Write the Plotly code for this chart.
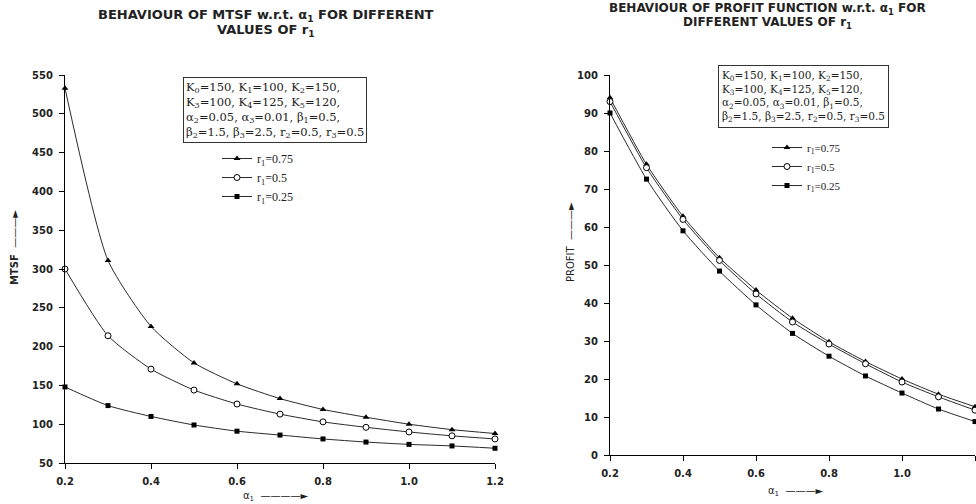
import plotly.graph_objects as go

alpha1 = [0.2, 0.3, 0.4, 0.5, 0.6, 0.7, 0.8, 0.9, 1.0, 1.1, 1.2]

mtsf_r075 = [533, 311, 226, 179, 152, 133, 119, 109, 100, 93, 88]
mtsf_r050 = [300, 214, 171, 144, 126, 113, 103, 96, 90, 85, 81]
mtsf_r025 = [148, 124, 110, 99, 91, 86, 81, 77, 74, 72, 69]

profit_r075 = [94, 76.5, 62.8, 51.9, 43.4, 36.0, 29.8, 24.6, 20.0, 16.0, 12.7]
profit_r050 = [93, 75.6, 62.0, 51.2, 42.4, 35.0, 29.2, 24.0, 19.2, 15.3, 11.8]
profit_r025 = [90, 72.6, 59.0, 48.4, 39.5, 32.0, 26.0, 20.8, 16.3, 12.1, 8.8]

series_names = ["r<sub>1</sub>=0.75", "r<sub>1</sub>=0.5", "r<sub>1</sub>=0.25"]

x_ticks = [0.2, 0.4, 0.6, 0.8, 1.0, 1.2]
mtsf_ticks = [50, 100, 150, 200, 250, 300, 350, 400, 450, 500, 550]
profit_ticks = [0, 10, 20, 30, 40, 50, 60, 70, 80, 90, 100]

params_text = ("K<sub>0</sub>=150, K<sub>1</sub>=100, K<sub>2</sub>=150,<br>"
               "K<sub>3</sub>=100, K<sub>4</sub>=125, K<sub>5</sub>=120,<br>"
               "\u03b1<sub>2</sub>=0.05, \u03b1<sub>3</sub>=0.01, \u03b2<sub>1</sub>=0.5,<br>"
               "\u03b2<sub>2</sub>=1.5, \u03b2<sub>3</sub>=2.5, r<sub>2</sub>=0.5, r<sub>3</sub>=0.5")

LINE = "#2a2a2a"
SANS = "DejaVu Sans"
SERIF = "Liberation Serif"
BOXSERIF = "DejaVu Serif"

markers = [
    dict(symbol="triangle-up", size=6, color="black"),
    dict(symbol="circle", size=6, color="white", line=dict(color="black", width=1)),
    dict(symbol="square", size=5, color="black"),
]

fig = go.Figure()

left_series = [mtsf_r075, mtsf_r050, mtsf_r025]
right_series = [profit_r075, profit_r050, profit_r025]

for name, ys, mk in zip(series_names, left_series, markers):
    fig.add_trace(go.Scatter(x=alpha1, y=ys, mode="lines+markers", name=name,
                             line=dict(color=LINE, width=1, shape="spline", smoothing=0.6),
                             marker=mk, xaxis="x", yaxis="y", legend="legend",
                             cliponaxis=False))
for name, ys, mk in zip(series_names, right_series, markers):
    fig.add_trace(go.Scatter(x=alpha1, y=ys, mode="lines+markers", name=name,
                             line=dict(color=LINE, width=1, shape="spline", smoothing=0.6),
                             marker=mk, xaxis="x2", yaxis="y2", legend="legend2",
                             cliponaxis=False))

W, H = 976, 504

def px(x):
    return x / W

def py(y):
    return 1 - y / H

axis_common = dict(showgrid=False, zeroline=False, showline=True, linecolor="black",
                   linewidth=1.3, ticks="outside", ticklen=5, tickcolor="black",
                   automargin=False, ticklabelstandoff=4,
                   tickfont=dict(family=SANS, size=10, color="#222", weight="bold"))

fig.update_layout(
    width=W, height=H,
    margin=dict(l=0, r=0, t=0, b=0, autoexpand=False),
    paper_bgcolor="white", plot_bgcolor="white",
    showlegend=True,
    xaxis=dict(domain=[px(65), px(495)], range=[0.2, 1.2], tickvals=x_ticks,
               tickformat=".1f", anchor="y", **axis_common),
    yaxis=dict(domain=[py(463), py(75)], range=[50, 550], tickvals=mtsf_ticks,
               anchor="x", **axis_common),
    xaxis2=dict(domain=[px(610), px(975)], range=[0.2, 1.2], tickvals=x_ticks,
                tickformat=".1f", anchor="y2", **axis_common),
    yaxis2=dict(domain=[py(455), py(75)], range=[0, 100], tickvals=profit_ticks,
                anchor="x2", **axis_common),
    legend=dict(x=px(217), y=py(144), xanchor="left", yanchor="top",
                font=dict(family=SERIF, size=12, color="#222"),
                bgcolor="rgba(0,0,0,0)", itemwidth=30, tracegroupgap=0),
    legend2=dict(x=px(767), y=py(133), xanchor="left", yanchor="top",
                 font=dict(family=SERIF, size=11, color="#222"),
                 bgcolor="rgba(0,0,0,0)", itemwidth=30, tracegroupgap=0),
)

ARROW3 = "\u2014\u2014\u2014\u25ba"
ARROW4 = "\u2014\u2014\u2014\u2014\u25ba"

def title_line(text, x, y, size):
    return dict(text=text, x=px(x), y=py(y), xref="paper", yref="paper",
                xanchor="center", yanchor="middle", showarrow=False,
                font=dict(family=SANS, size=size, color="#222", weight="bold"))

annotations = [
    title_line("BEHAVIOUR OF MTSF w.r.t. \u03b1<sub>1</sub> FOR DIFFERENT", 266, 15, 13),
    title_line("VALUES OF r<sub>1</sub>", 266, 30, 13),
    title_line("BEHAVIOUR OF PROFIT FUNCTION w.r.t. \u03b1<sub>1</sub> FOR", 767, 9, 12),
    title_line("DIFFERENT VALUES OF r<sub>1</sub>", 767, 23, 12),
    dict(text=params_text, x=px(183), y=py(77), xref="paper", yref="paper",
         xanchor="left", yanchor="top", align="left", showarrow=False,
         font=dict(family=BOXSERIF, size=11.5, color="#222"),
         bordercolor="#333", borderwidth=1, borderpad=2, bgcolor="white"),
    dict(text=params_text, x=px(718), y=py(65), xref="paper", yref="paper",
         xanchor="left", yanchor="top", align="left", showarrow=False,
         font=dict(family=BOXSERIF, size=10.5, color="#222"),
         bordercolor="#333", borderwidth=1, borderpad=3, bgcolor="white"),
    dict(text="\u03b1<sub>1</sub>  " + ARROW4, x=px(275), y=py(496),
         xref="paper", yref="paper", xanchor="center", yanchor="middle", showarrow=False,
         font=dict(family=SANS, size=10, color="#222")),
    dict(text="\u03b1<sub>1</sub>  " + ARROW3, x=px(795), y=py(491),
         xref="paper", yref="paper", xanchor="center", yanchor="middle", showarrow=False,
         font=dict(family=SANS, size=10, color="#222")),
    dict(text="<b>MTSF</b>  " + ARROW3, x=px(14), y=py(248), textangle=-90,
         xref="paper", yref="paper", xanchor="center", yanchor="middle", showarrow=False,
         font=dict(family=SANS, size=10, color="#222")),
    dict(text="PROFIT  " + ARROW3, x=px(570), y=py(242), textangle=-90,
         xref="paper", yref="paper", xanchor="center", yanchor="middle", showarrow=False,
         font=dict(family=SANS, size=10, color="#222")),
]
fig.update_layout(annotations=annotations)

fig.write_html("out.html", config={"displayModeBar": False},
               post_script="document.body.style.margin='0';document.body.style.overflow='hidden';")
